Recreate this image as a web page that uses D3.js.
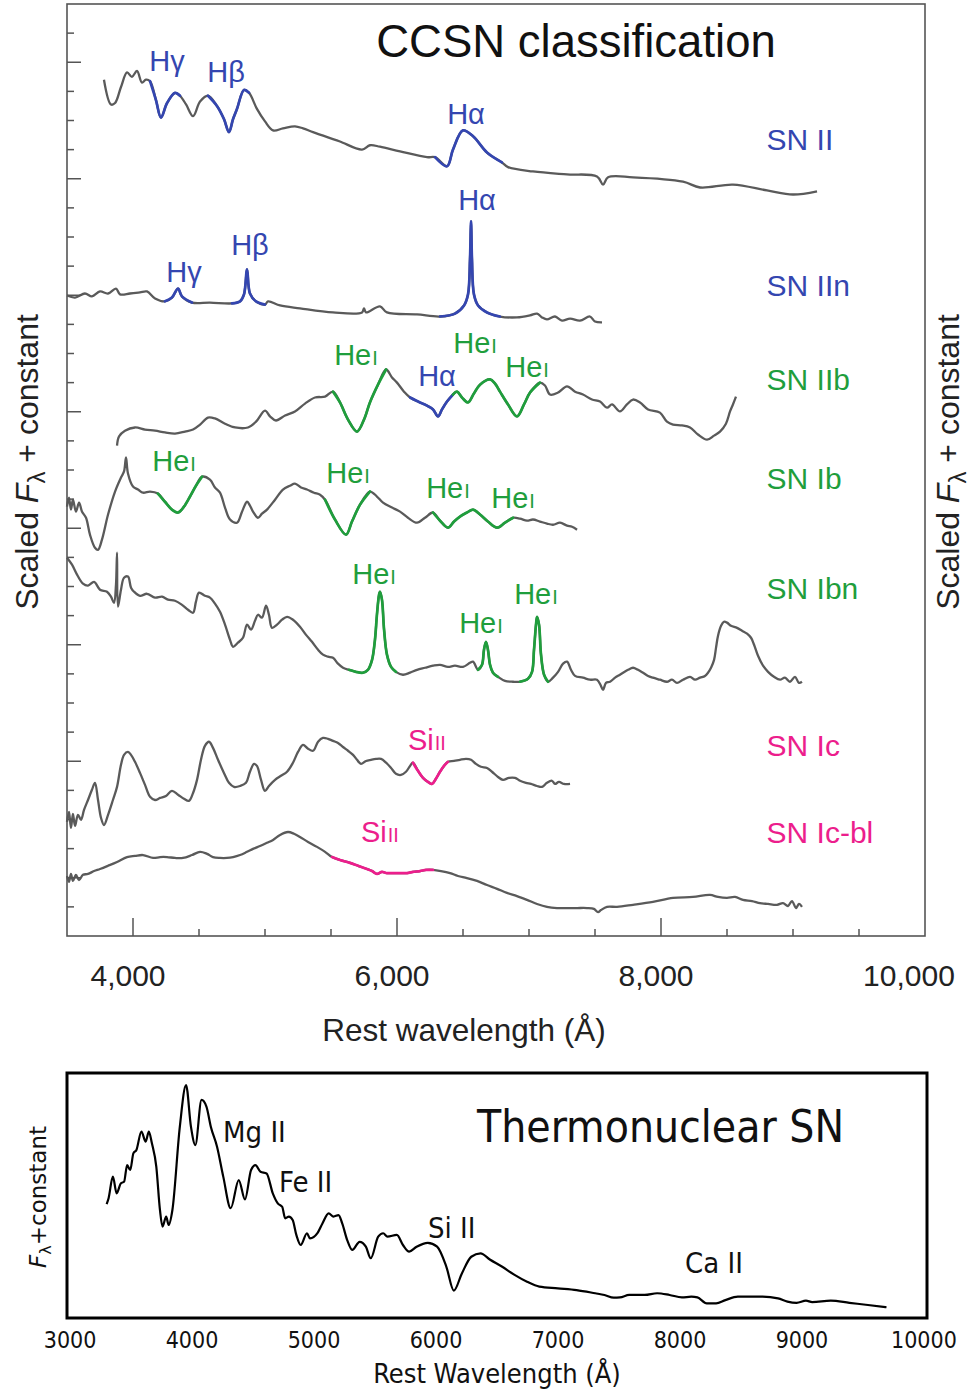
<!DOCTYPE html>
<html>
<head>
<meta charset="utf-8">
<script src="https://cdn.jsdelivr.net/npm/d3@7"></script>
<style>
  body { margin: 0; background: #fff; }
  svg { display: block; }
</style>
</head>
<body>
<svg id="chart" width="972" height="1393"></svg>
<script>
// ---------- Core-collapse spectra: [rest wavelength (Å), scaled flux + constant] ----------
const snII = [
  [3780,29.4],[3833,28.55],[3864,28.6],[3909,29.15],[3955,29.65],[3992,29.5],[4030,29.7],[4068,29.3],
  [4098,29.4],[4129,29.35],[4174,28.7],[4212,28.1],[4258,28.6],[4318,28.95],[4356,28.85],[4402,28.55],
  [4455,28.15],[4508,28.65],[4568,28.85],[4636,28.5],[4689,28.05],[4727,27.6],[4758,28.05],[4788,28.4],
  [4841,29.05],[4879,28.95],[4939,28.4],[5000,27.97],[5061,27.66],[5136,27.73],[5227,27.8],[5288,27.73],
  [5364,27.6],[5477,27.42],[5568,27.28],[5735,27.0],[5795,27.15],[5871,27.1],[6023,26.94],[6227,26.74],
  [6288,26.74],[6379,26.43],[6424,27.0],[6500,27.66],[6576,27.46],[6682,26.9],[6795,26.56],[6841,26.4],
  [7030,26.25],[7288,26.15],[7515,26.08],[7561,25.8],[7599,26.05],[7788,26.05],[8167,25.9],[8296,25.7],
  [8545,25.8],[8803,25.6],[9000,25.46],[9182,25.57]
];

const snIIn = [
  [3500,21.99],[3561,21.92],[3636,22.06],[3689,21.96],[3750,22.13],[3811,22.06],[3871,22.23],[3902,22.03],
  [3977,22.06],[4053,22.1],[4106,22.13],[4167,21.89],[4242,21.79],[4295,21.92],[4341,22.23],[4371,21.96],
  [4447,21.75],[4583,21.75],[4750,21.72],[4811,21.79],[4841,22.03],[4864,22.89],[4886,22.06],[4932,21.79],
  [5000,21.68],[5023,21.79],[5114,21.65],[5265,21.55],[5515,21.41],[5735,21.41],[5750,21.55],[5765,21.41],
  [5871,21.62],[5924,21.41],[6152,21.34],[6326,21.27],[6439,21.37],[6508,21.65],[6538,22.03],[6553,23.23],
  [6561,24.54],[6568,23.23],[6583,22.03],[6614,21.65],[6682,21.41],[6780,21.27],[6909,21.24],[7008,21.31],
  [7061,21.37],[7099,21.24],[7136,21.17],[7197,21.27],[7250,21.13],[7311,21.2],[7386,21.13],[7462,21.27],
  [7500,21.1],[7553,21.07]
];

const snIIb = [
  [3879,16.84],[3894,17.15],[3939,17.35],[4015,17.46],[4091,17.39],[4167,17.35],[4242,17.29],[4318,17.25],
  [4394,17.32],[4455,17.39],[4508,17.56],[4568,17.8],[4621,17.77],[4697,17.59],[4773,17.46],[4871,17.46],
  [4932,17.66],[5000,18.04],[5038,17.84],[5083,17.7],[5152,17.87],[5227,18.01],[5303,18.28],[5379,18.49],
  [5455,18.52],[5515,18.69],[5568,18.32],[5629,17.73],[5697,17.32],[5750,17.73],[5795,18.32],[5856,18.93],
  [5917,19.45],[5962,19.18],[6000,19.0],[6053,18.69],[6099,18.49],[6174,18.32],[6227,18.21],[6273,18.08],
  [6311,17.84],[6341,18.08],[6379,18.35],[6424,18.59],[6455,18.69],[6492,18.49],[6538,18.32],[6583,18.63],
  [6629,18.93],[6705,19.11],[6742,18.97],[6780,18.69],[6841,18.25],[6909,17.84],[6962,18.25],[7008,18.66],
  [7083,19.0],[7121,18.9],[7159,18.59],[7220,18.66],[7288,18.87],[7349,18.69],[7409,18.59],[7477,18.42],
  [7538,18.35],[7591,18.14],[7629,18.25],[7689,18.01],[7742,18.25],[7788,18.42],[7841,18.32],[7902,18.08],
  [7992,17.97],[8045,17.66],[8091,17.56],[8159,17.53],[8220,17.46],[8280,17.22],[8349,17.04],[8402,17.18],
  [8447,17.32],[8492,17.59],[8523,18.01],[8545,18.25],[8568,18.52]
];

const snIb = [
  [3500,14.74],[3515,15.05],[3530,14.64],[3545,14.98],[3568,14.57],[3591,14.88],[3614,14.57],[3644,14.36],
  [3674,13.78],[3712,13.33],[3735,13.26],[3765,13.61],[3811,14.47],[3864,15.26],[3909,15.74],[3932,15.95],
  [3947,16.43],[3962,15.88],[4000,15.43],[4038,15.33],[4076,15.22],[4129,15.26],[4189,15.19],[4242,14.91],
  [4295,14.64],[4341,14.54],[4386,14.74],[4432,15.09],[4477,15.46],[4523,15.77],[4583,15.67],[4621,15.4],
  [4659,15.22],[4697,14.71],[4735,14.3],[4788,14.19],[4826,14.57],[4864,14.91],[4886,14.78],[4909,14.57],
  [4947,14.36],[4977,14.5],[5015,14.64],[5076,14.98],[5136,15.33],[5189,15.46],[5227,15.53],[5273,15.4],
  [5318,15.33],[5371,15.22],[5417,15.15],[5455,14.98],[5530,14.3],[5614,13.78],[5659,14.23],[5720,14.81],
  [5795,15.26],[5848,15.09],[5894,14.88],[5962,14.71],[6023,14.57],[6083,14.36],[6152,14.19],[6212,14.36],
  [6273,14.54],[6326,14.26],[6386,14.02],[6432,14.23],[6477,14.4],[6530,14.54],[6576,14.64],[6629,14.47],
  [6689,14.23],[6758,14.02],[6818,14.19],[6879,14.36],[6932,14.33],[6985,14.26],[7030,14.3],[7083,14.23],
  [7136,14.16],[7182,14.12],[7235,14.19],[7288,14.09],[7326,14.05],[7364,13.95]
];

const snIbn = [
  [3500,12.99],[3538,12.75],[3576,12.41],[3621,12.1],[3659,12.03],[3705,12.16],[3750,11.89],[3803,11.82],
  [3833,11.65],[3856,11.44],[3871,12.06],[3879,13.16],[3886,11.31],[3909,11.89],[3932,12.3],[3962,12.34],
  [3985,11.96],[4008,11.82],[4053,11.68],[4106,11.75],[4167,11.62],[4220,11.65],[4265,11.55],[4318,11.51],
  [4371,11.37],[4417,11.2],[4455,11.1],[4477,11.48],[4500,11.79],[4545,11.68],[4583,11.62],[4621,11.41],
  [4659,11.13],[4697,10.69],[4735,10.17],[4758,9.93],[4795,10.07],[4833,10.24],[4864,10.69],[4894,10.52],
  [4924,10.82],[4947,11.03],[4977,10.93],[5008,11.34],[5030,11.03],[5053,10.58],[5091,10.69],[5129,10.86],
  [5167,10.96],[5212,10.86],[5265,10.62],[5311,10.34],[5356,10.1],[5402,9.83],[5439,9.66],[5477,9.59],
  [5515,9.55],[5553,9.35],[5591,9.21],[5636,9.14],[5689,9.07],[5742,9.04],[5780,9.14],[5811,9.48],
  [5833,10.17],[5848,11.03],[5864,11.72],[5871,11.82],[5886,11.55],[5902,10.52],[5924,9.66],[5955,9.24],
  [5992,9.07],[6045,8.97],[6099,9.04],[6152,9.14],[6212,9.21],[6273,9.28],[6326,9.31],[6386,9.24],
  [6439,9.28],[6500,9.24],[6553,9.38],[6576,9.42],[6614,9.14],[6644,9.31],[6659,9.83],[6674,10.1],
  [6689,9.83],[6705,9.31],[6727,9.04],[6765,8.9],[6818,8.76],[6879,8.73],[6932,8.73],[6992,8.83],
  [7023,9.07],[7038,9.83],[7053,10.69],[7061,10.96],[7076,10.69],[7091,9.66],[7114,8.97],[7144,8.73],
  [7182,8.87],[7220,9.07],[7258,9.35],[7288,9.42],[7318,9.14],[7349,8.93],[7409,8.87],[7462,8.8],
  [7515,8.8],[7545,8.59],[7561,8.45],[7583,8.69],[7614,8.73],[7652,8.87],[7689,8.97],[7750,9.14],
  [7788,9.21],[7826,9.14],[7864,9.04],[7902,8.93],[7939,8.87],[7992,8.8],[8045,8.73],[8083,8.8],
  [8121,8.69],[8167,8.8],[8220,8.9],[8258,8.8],[8296,8.87],[8333,8.93],[8356,9.04],[8379,9.21],
  [8402,9.48],[8417,9.9],[8432,10.31],[8455,10.65],[8477,10.79],[8500,10.76],[8530,10.65],[8576,10.58],
  [8614,10.48],[8652,10.38],[8682,10.24],[8705,10.0],[8735,9.62],[8773,9.28],[8811,9.07],[8856,8.9],
  [8902,8.8],[8939,8.87],[8977,8.73],[9015,8.9],[9045,8.69],[9068,8.73]
];

const snIc = [
  [3500,3.92],[3515,4.26],[3530,3.71],[3545,4.19],[3561,3.78],[3583,4.16],[3606,3.99],[3629,4.33],
  [3659,4.67],[3689,5.02],[3712,5.26],[3735,4.67],[3758,4.05],[3780,3.81],[3811,4.16],[3848,4.67],
  [3879,5.12],[3909,5.88],[3932,6.22],[3962,6.32],[3985,6.22],[4015,5.98],[4053,5.6],[4091,5.19],
  [4129,4.78],[4167,4.67],[4205,4.74],[4250,4.81],[4295,4.98],[4341,4.85],[4386,4.71],[4424,4.64],
  [4455,4.91],[4485,5.36],[4515,6.05],[4545,6.53],[4576,6.67],[4606,6.46],[4644,6.05],[4689,5.6],
  [4727,5.26],[4765,5.12],[4811,5.15],[4856,5.26],[4886,5.64],[4917,5.91],[4939,5.84],[4970,5.36],
  [5000,4.98],[5030,5.15],[5076,5.36],[5121,5.5],[5167,5.64],[5212,5.95],[5250,6.32],[5288,6.56],
  [5326,6.43],[5364,6.36],[5402,6.67],[5439,6.8],[5477,6.77],[5515,6.7],[5553,6.63],[5591,6.49],
  [5629,6.36],[5667,6.22],[5697,6.05],[5727,5.91],[5765,6.01],[5803,6.05],[5841,6.08],[5879,6.08],
  [5917,5.95],[5955,5.77],[5992,5.57],[6030,5.53],[6068,5.64],[6099,5.84],[6121,5.95],[6159,5.67],
  [6197,5.43],[6235,5.29],[6265,5.22],[6295,5.4],[6326,5.64],[6356,5.84],[6386,5.98],[6432,6.01],
  [6477,6.05],[6523,6.08],[6561,6.05],[6598,5.91],[6636,5.81],[6682,5.77],[6720,5.64],[6765,5.46],
  [6803,5.36],[6848,5.43],[6894,5.43],[6932,5.33],[6977,5.26],[7015,5.22],[7061,5.15],[7099,5.12],
  [7136,5.26],[7174,5.33],[7197,5.22],[7227,5.29],[7265,5.22],[7311,5.22]
];

const snIcBl = [
  [3500,2.06],[3515,1.86],[3530,2.13],[3545,1.89],[3568,2.1],[3591,1.92],[3621,2.1],[3659,2.13],
  [3705,2.23],[3750,2.3],[3811,2.41],[3879,2.54],[3955,2.71],[4015,2.75],[4076,2.78],[4152,2.68],
  [4205,2.71],[4258,2.71],[4318,2.68],[4379,2.68],[4447,2.78],[4508,2.89],[4561,2.82],[4606,2.71],
  [4659,2.68],[4712,2.68],[4758,2.71],[4811,2.78],[4864,2.89],[4909,2.99],[4962,3.09],[5015,3.2],
  [5061,3.3],[5114,3.47],[5174,3.57],[5220,3.51],[5265,3.4],[5326,3.23],[5394,3.06],[5455,2.89],
  [5508,2.71],[5568,2.61],[5644,2.51],[5705,2.41],[5773,2.3],[5811,2.23],[5848,2.13],[5886,2.2],
  [5924,2.16],[6000,2.16],[6076,2.16],[6121,2.2],[6174,2.23],[6220,2.27],[6273,2.27],[6333,2.23],
  [6402,2.16],[6462,2.06],[6530,1.99],[6606,1.89],[6682,1.75],[6758,1.62],[6833,1.48],[6909,1.37],
  [6985,1.24],[7061,1.1],[7136,1.0],[7212,0.96],[7288,0.96],[7364,0.96],[7439,0.96],[7492,0.93],
  [7523,0.82],[7545,0.89],[7591,1.0],[7667,1.0],[7788,1.07],[7939,1.17],[8091,1.31],[8242,1.34],
  [8371,1.41],[8432,1.34],[8500,1.31],[8561,1.34],[8621,1.24],[8689,1.2],[8750,1.13],[8811,1.1],
  [8879,1.07],[8924,1.13],[8962,1.03],[8992,1.2],[9023,0.96],[9045,1.1],[9068,1.0]
];

// Thermonuclear (Type Ia) spectrum
const snIa = [
  [3300,4.65],[3316,4.89],[3351,5.77],[3382,5.09],[3417,5.5],[3443,5.56],[3468,6.24],[3493,6.04],
  [3519,6.72],[3544,6.86],[3585,7.61],[3620,7.2],[3646,7.61],[3671,7.13],[3707,6.18],[3737,4.41],
  [3758,3.73],[3788,4.14],[3808,3.8],[3839,4.41],[3900,7.81],[3951,9.51],[3991,7.81],[4027,7.06],
  [4078,8.9],[4118,8.63],[4154,7.81],[4205,6.99],[4256,5.77],[4317,4.48],[4383,5.63],[4434,4.84],
  [4484,6.04],[4520,6.24],[4561,5.97],[4611,5.9],[4662,5.09],[4703,4.68],[4739,4.54],[4764,4.07],
  [4794,4.14],[4825,4.0],[4855,3.39],[4891,2.98],[4942,3.46],[4967,3.25],[5028,3.46],[5069,3.86],
  [5120,4.27],[5160,4.14],[5201,4.2],[5231,3.86],[5272,3.18],[5313,2.78],[5374,3.11],[5425,2.91],
  [5465,2.44],[5526,3.32],[5567,3.46],[5602,3.32],[5679,3.39],[5729,2.98],[5780,2.71],[5841,2.91],
  [5933,3.07],[6009,2.91],[6085,2.09],[6146,1.12],[6212,1.82],[6289,2.5],[6365,2.64],[6441,2.39],
  [6543,2.09],[6644,1.76],[6746,1.48],[6847,1.28],[6999,1.21],[7152,1.14],[7305,1.01],[7381,0.94],
  [7457,0.83],[7508,0.84],[7584,0.94],[7711,0.94],[7813,1.01],[7915,0.94],[8016,0.84],[8093,0.87],
  [8143,0.84],[8220,0.6],[8296,0.6],[8372,0.73],[8474,0.87],[8677,0.87],[8804,0.8],[8881,0.67],
  [8956,0.62],[9033,0.71],[9084,0.65],[9236,0.71],[9389,0.62],[9541,0.53],[9693,0.44]
];

// Spectra by type name
const spectra = { "SN II": snII, "SN IIn": snIIn, "SN IIb": snIIb, "SN Ib": snIb, "SN Ibn": snIbn, "SN Ic": snIc, "SN Ic-bl": snIcBl };

// Highlighted line regions: [type, from Å, to Å, species]
const highlights = [
  ["SN II",4129,4356,"H"],["SN II",4568,4879,"H"],["SN II",6288,6795,"H"],
  ["SN IIn",4242,4447,"H"],["SN IIn",4750,5000,"H"],["SN IIn",6326,6780,"H"],
  ["SN IIb",5515,5917,"He"],["SN IIb",6099,6424,"H"],["SN IIb",6424,7083,"He"],
  ["SN Ib",4189,4523,"He"],["SN Ib",5455,5795,"He"],["SN Ib",6273,6879,"He"],
  ["SN Ibn",5636,5992,"He"],["SN Ibn",6614,6765,"He"],["SN Ibn",6932,7144,"He"],
  ["SN Ic",6121,6386,"Si"],["SN Ic-bl",5508,6273,"Si"]
];

// Line identifications: [main text, ion stage, wavelength Å, flux, species]
const lineLabels = [
  ["Hγ","",4258,29.69,"H"],["Hβ","",4705,29.31,"H"],["Hα","",6523,27.87,"H"],
  ["Hγ","",4386,22.47,"H"],["Hβ","",4886,23.37,"H"],["Hα","",6606,24.91,"H"],
  ["He","I",5689,19.59,"He"],["Hα","",6303,18.87,"H"],["He","I",6591,20.03,"He"],["He","I",6985,19.21,"He"],
  ["He","I",4311,15.95,"He"],["He","I",5629,15.57,"He"],["He","I",6386,15.05,"He"],["He","I",6879,14.71,"He"],
  ["He","I",5826,12.10,"He"],["He","I",6636,10.41,"He"],["He","I",7053,11.41,"He"],
  ["Si","II",6227,6.39,"Si"],["Si","II",5871,3.23,"Si"]
];

// Type labels: [name, flux baseline, species]
const typeLabels = [
  ["SN II",26.98,"H"],["SN IIn",21.96,"H"],["SN IIb",18.76,"He"],["SN Ib",15.36,"He"],
  ["SN Ibn",11.58,"He"],["SN Ic",6.19,"Si"],["SN Ic-bl",3.20,"Si"]
];
const typeLabelWave = 8800;

const topXTicksMajor = [4000, 6000, 8000, 10000];
const topXTickLabels = ["4,000", "6,000", "8,000", "10,000"];
const topXTicksMinor = [4500, 5000, 5500, 6500, 7000, 7500, 8500, 9000, 9500];
const topYTicks = d3.range(1, 32);
const topYMajor = [2, 6, 10, 14, 18, 22, 26, 30];

const iaLabels = [["Mg II",4254,7.18],["Fe II",4713,5.14],["Si II",5934,3.27],["Ca II",8041,1.84]];
const iaXTicks = [3000, 4000, 5000, 6000, 7000, 8000, 9000, 10000];

const colors = { H: "#3446b0", He: "#1f9e3c", Si: "#ec1e8c" };
const grey = "#5a5a5a";

// ---------------- Drawing ----------------
const svg = d3.select("#chart");
const sans = "'Liberation Sans', Arial, Helvetica, sans-serif";
const cond = "'DejaVu Sans Condensed', 'DejaVu Sans', sans-serif";

// Upper panel scales
const x = d3.scaleLinear().domain([3500, 10000]).range([67, 925]);
const y = d3.scaleLinear().domain([0, 32]).range([936, 4]);
const line = d3.line().x(d => x(d[0])).y(d => y(d[1])).curve(d3.curveCatmullRom.alpha(0.5));

const upper = svg.append("g");

// Spectra
Object.entries(spectra).forEach(([name, data]) => {
  upper.append("path").datum(data)
    .attr("d", line).attr("fill", "none")
    .attr("stroke", grey).attr("stroke-width", 2.3)
    .attr("stroke-linejoin", "round");
});
highlights.forEach(([name, a, b, sp]) => {
  const seg = spectra[name].filter(d => d[0] >= a && d[0] <= b);
  upper.append("path").datum(seg)
    .attr("d", line).attr("fill", "none")
    .attr("stroke", colors[sp]).attr("stroke-width", 2.7)
    .attr("stroke-linejoin", "round").attr("stroke-linecap", "round");
});

// Frame and ticks
upper.append("rect").attr("x", x(3500)).attr("y", y(32))
  .attr("width", x(10000) - x(3500)).attr("height", y(0) - y(32))
  .attr("fill", "none").attr("stroke", "#555").attr("stroke-width", 1.6);

upper.selectAll(".yt").data(topYTicks).join("line")
  .attr("x1", x(3500)).attr("x2", d => x(3500) + (topYMajor.includes(d) ? 14 : 7))
  .attr("y1", d => y(d)).attr("y2", d => y(d))
  .attr("stroke", "#555").attr("stroke-width", 1.5);

upper.selectAll(".xt").data(topXTicksMajor.concat(topXTicksMinor).filter(v => v < 10000)).join("line")
  .attr("x1", d => x(d)).attr("x2", d => x(d))
  .attr("y1", y(0)).attr("y2", d => y(0) - (topXTicksMajor.includes(d) ? 18 : 7))
  .attr("stroke", "#555").attr("stroke-width", 1.5);

upper.selectAll(".xl").data(topXTicksMajor).join("text")
  .attr("x", d => Math.min(x(d) - 5, 909)).attr("y", 986)
  .attr("text-anchor", "middle").attr("font-family", sans).attr("font-size", 30)
  .attr("fill", "#222").text((d, i) => topXTickLabels[i]);

upper.append("text").attr("x", 464).attr("y", 1041)
  .attr("text-anchor", "middle").attr("font-family", sans).attr("font-size", 31.5)
  .attr("fill", "#222").text("Rest wavelength (Å)");

// Y axis titles on both sides
function fluxTitle(g, tx) {
  const t = g.append("text")
    .attr("transform", `translate(${tx},462) rotate(-90)`)
    .attr("text-anchor", "middle").attr("font-family", sans).attr("font-size", 32).attr("fill", "#222");
  t.append("tspan").text("Scaled ");
  t.append("tspan").attr("font-style", "italic").text("F");
  t.append("tspan").attr("font-size", 24).attr("dy", 7).text("λ");
  t.append("tspan").attr("dy", -7).text(" + constant");
}
fluxTitle(upper, 38);
fluxTitle(upper, 959);

upper.append("text").attr("x", 576).attr("y", 57)
  .attr("text-anchor", "middle").attr("font-family", sans).attr("font-size", 45.5)
  .attr("fill", "#111").text("CCSN classification");

// Line identifications
lineLabels.forEach(([main, ion, w, f, sp]) => {
  const t = upper.append("text").attr("x", x(w)).attr("y", y(f))
    .attr("text-anchor", "middle").attr("font-family", sans).attr("font-size", 29)
    .attr("fill", colors[sp]);
  t.append("tspan").text(main);
  if (ion) t.append("tspan").attr("font-size", 20).attr("dx", 1).text(ion);
});

typeLabels.forEach(([name, f, sp]) => {
  upper.append("text").attr("x", x(typeLabelWave)).attr("y", y(f))
    .attr("font-family", sans).attr("font-size", 30).attr("fill", colors[sp]).text(name);
});

// ---------------- Thermonuclear panel ----------------
const xb = d3.scaleLinear().domain([2975, 10025]).range([67, 927]);
const yb = d3.scaleLinear().domain([0, 10]).range([1318, 1073]);
const lower = svg.append("g");

lower.append("path").datum(snIa)
  .attr("d", d3.line().x(d => xb(d[0])).y(d => yb(d[1])).curve(d3.curveMonotoneX))
  .attr("fill", "none").attr("stroke", "#000").attr("stroke-width", 2.2)
  .attr("stroke-linejoin", "round");

lower.append("rect").attr("x", 67).attr("y", 1073)
  .attr("width", 860).attr("height", 245)
  .attr("fill", "none").attr("stroke", "#000").attr("stroke-width", 3);

lower.selectAll(".bt").data(iaXTicks).join("text")
  .attr("x", d => xb(d)).attr("y", 1348)
  .attr("text-anchor", "middle").attr("font-family", cond).attr("font-size", 23)
  .attr("fill", "#111").text(d => d);

lower.append("text").attr("x", 497).attr("y", 1383)
  .attr("text-anchor", "middle").attr("font-family", cond).attr("font-size", 27)
  .attr("fill", "#111").text("Rest Wavelength (Å)");

const yl = lower.append("text").attr("transform", "translate(46,1197) rotate(-90)")
  .attr("text-anchor", "middle").attr("font-family", "'DejaVu Sans', sans-serif")
  .attr("font-size", 23).attr("fill", "#111");
yl.append("tspan").attr("font-style", "italic").text("F");
yl.append("tspan").attr("font-size", 16).attr("dy", 5).text("λ");
yl.append("tspan").attr("dy", -5).text("+constant");

lower.append("text").attr("x", 477).attr("y", 1142)
  .attr("font-family", cond).attr("font-size", 44).attr("fill", "#111").text("Thermonuclear SN");

iaLabels.forEach(([txt, w, f]) => {
  lower.append("text").attr("x", xb(w)).attr("y", yb(f))
    .attr("font-family", cond).attr("font-size", 29).attr("fill", "#111").text(txt);
});
</script>
</body>
</html>
